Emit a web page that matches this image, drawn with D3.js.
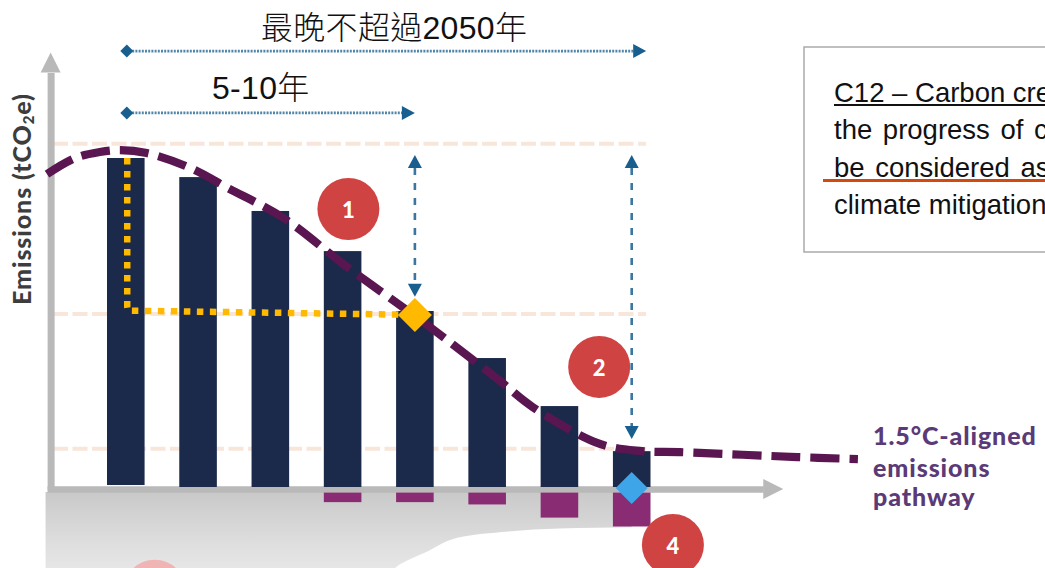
<!DOCTYPE html>
<html>
<head>
<meta charset="utf-8">
<style>
  html, body { margin: 0; padding: 0; background: #fff; overflow: hidden; }
  svg { display: block; }
</style>
<script src="https://cdn.jsdelivr.net/npm/d3@7/dist/d3.min.js"></script>
</head>
<body>
<svg id="chart" width="1045" height="568"></svg>
<script>
// Annual emissions bars and the removals held below the axis
const periods = [0, 1, 2, 3, 4, 5, 6, 7];
const emissions = [100, 94.2, 83.9, 71.7, 53.5, 39.2, 24.6, 10.9];
const removals = [0, 0, 0, 2.9, 2.9, 3.6, 7.6, 10.3];

// 1.5°C pathway: time position and emission level
const pathwayTime = [-1.09, -0.70, -0.36, -0.08, 0.29, 0.89, 1.41, 2.18, 3.06, 4.0, 4.39, 5.18, 5.63, 6.56, 7.14, 7.67, 9.29, 10.13];
const pathwayLevel = [95.1, 100, 101.8, 102.4, 101.5, 97, 90.9, 81.8, 66.9, 52, 45.6, 32.2, 24.3, 13.1, 10.9, 10.6, 9.1, 8.5];

// Lower edge of the shaded removals region
const shadeTime = [-1.11, 3.4, 3.8, 4.15, 4.5, 5.2, 6.0, 7.0];
const shadeLevel = [-30, -30, -23.4, -19.8, -16, -13.7, -12.6, -12.2];

// Reference levels and annotation text
const guideLevels = [104.3, 52.6, 11.6];
const spanLabels = ["最晚不超過2050年", "5-10年"];
const pathwayLabel = ["1.5°C-aligned", "emissions", "pathway"];
const pathwayBaselines = [445, 477, 506];
const noteLines = ["C12 – Carbon credits", "the progress of companies", "be considered as", "climate mitigation"];
const badges = [
  { label: "1", t: 3.08, level: 84.5, fill: "#d04343" },
  { label: "2", t: 6.55, level: 36.5, fill: "#d04343" },
  { label: "", t: 0.4, level: -31.5, fill: "#f0b4b4" },
  { label: "4", t: 7.57, level: -17.6, fill: "#d04343" }
];

const svg = d3.select("#chart");

const x = d3.scaleBand().domain(periods).range([107, 650.5]).paddingInner(0.48).paddingOuter(0);
const time = d3.scaleLinear().domain([0, 7]).range([x(0) + x.bandwidth() / 2, x(7) + x.bandwidth() / 2]);
const y = d3.scaleLinear().domain([0, 100]).range([487, 158]);

const AXIS = "#b9b9b9", NAVY = "#1b2a4a", PLUM = "#5a1650", ORCHID = "#8a2c74",
      AMBER = "#ffb900", BLUE = "#185f8f", SKY = "#3ea6e8";

const defs = svg.append("defs");
const grad = defs.append("linearGradient").attr("id", "shade").attr("x1", 0).attr("x2", 0).attr("y1", 0).attr("y2", 1);
grad.append("stop").attr("offset", "0%").attr("stop-color", "#c9c9c9");
grad.append("stop").attr("offset", "55%").attr("stop-color", "#dedede");
grad.append("stop").attr("offset", "100%").attr("stop-color", "#ececec");

// Shaded region under the axis
const shadeArea = d3.area()
  .x((d, i) => time(shadeTime[i]))
  .y0(y(-1.5))
  .y1(d => y(d))
  .curve(d3.curveMonotoneX);
svg.append("path").datum(shadeLevel).attr("d", shadeArea).attr("fill", "url(#shade)");

// Dashed reference levels
svg.append("g").selectAll("line").data(guideLevels).join("line")
  .attr("x1", 53).attr("x2", time(7.2))
  .attr("y1", d => y(d)).attr("y2", d => y(d))
  .attr("stroke", "#f8e6da").attr("stroke-width", 4).attr("stroke-dasharray", "15 4.5");

// Axes: bare domain lines with arrow heads
const axisX = d3.scaleLinear().domain([-1.09, 8.82]).range([time(-1.09), time(8.82)]);
const axisY = d3.scaleLinear().domain([-0.6, 126]).range([y(-0.6), y(126)]);
const gx = svg.append("g").attr("transform", `translate(0,${y(-0.6)})`)
  .call(d3.axisBottom(axisX).tickValues([]).tickSizeOuter(0));
const gy = svg.append("g").attr("transform", `translate(${time(-1.04)},0)`)
  .call(d3.axisLeft(axisY).tickValues([]).tickSizeOuter(0));
gx.select(".domain").attr("stroke", AXIS).attr("stroke-width", 6.6);
gy.select(".domain").attr("stroke", AXIS).attr("stroke-width", 7);

const triangle = (pts, fill) => svg.append("polygon")
  .attr("points", pts.map(p => p.join(",")).join(" ")).attr("fill", fill);
triangle([[time(8.82), y(-0.6) - 10], [time(8.82) + 20, y(-0.6)], [time(8.82), y(-0.6) + 10]], AXIS);
triangle([[time(-1.04) - 10, y(126)], [time(-1.04), y(126) - 20], [time(-1.04) + 10, y(126)]], AXIS);

// Emission bars
svg.append("g").selectAll("rect").data(periods).join("rect")
  .attr("x", d => x(d)).attr("width", x.bandwidth())
  .attr("y", d => y(emissions[d]))
  .attr("height", d => y(d === 0 ? 0.6 : 0) - y(emissions[d]))
  .attr("fill", NAVY);

// Removal bars, hung just below the axis
const removalTop = -1.7;
svg.append("g").selectAll("rect").data(periods.filter(d => removals[d] > 0)).join("rect")
  .attr("x", d => x(d)).attr("width", x.bandwidth())
  .attr("y", y(removalTop))
  .attr("height", d => y(removalTop - removals[d]) - y(removalTop))
  .attr("fill", ORCHID);

// Near-term target path
const target = d3.path();
target.moveTo(time(0.02), y(100));
target.lineTo(time(0.02), y(55));
target.quadraticCurveTo(time(0.02), y(53.6), time(0.05), y(53.6));
target.lineTo(time(3.8), y(52.4));
svg.append("path").attr("d", target.toString()).attr("fill", "none")
  .attr("stroke", AMBER).attr("stroke-width", 6.5).attr("stroke-dasharray", "6.5 6.5");

// 1.5°C pathway
const pathway = d3.line().x(d => time(d)).y((d, i) => y(pathwayLevel[i])).curve(d3.curveCatmullRom);
svg.append("path").attr("d", pathway(pathwayTime)).attr("fill", "none")
  .attr("stroke", PLUM).attr("stroke-width", 8.2).attr("stroke-dasharray", "29 10");

// Target diamonds
const diamond = (cx, cy, r, fill) => svg.append("path")
  .attr("d", `M${cx},${cy - r}L${cx + r},${cy}L${cx},${cy + r}L${cx - r},${cy}Z`).attr("fill", fill);
diamond(time(4), y(52.3), 17, AMBER);
diamond(time(7), y(-0.3), 16, SKY);

// Horizontal time spans
const spans = [{ level: 132.5, end: 7.2 }, { level: 113.7, end: 4.0 }];
spans.forEach(s => {
  const yy = y(s.level), tip = time(s.end);
  svg.append("line").attr("x1", time(0)).attr("x2", tip - 10).attr("y1", yy).attr("y2", yy)
    .attr("stroke", BLUE).attr("stroke-width", 2.8).attr("stroke-dasharray", "2 1.2").attr("opacity", 0.75);
  diamond(time(0) + 1, yy, 6.5, BLUE);
  triangle([[tip - 13, yy - 7], [tip, yy], [tip - 13, yy + 7]], BLUE);
});

// Vertical reduction gaps
const gaps = [{ t: 4, top: 100.9, bottom: 57.8 }, { t: 7, top: 100.9, bottom: 14.6 }];
gaps.forEach(g => {
  const xx = time(g.t), y0 = y(g.top), y1 = y(g.bottom);
  svg.append("line").attr("x1", xx).attr("x2", xx).attr("y1", y0 + 13).attr("y2", y1 - 13)
    .attr("stroke", BLUE).attr("stroke-width", 2.6).attr("stroke-dasharray", "7 8").attr("opacity", 0.85);
  triangle([[xx - 7, y0 + 13], [xx, y0], [xx + 7, y0 + 13]], BLUE);
  triangle([[xx - 7, y1 - 13], [xx, y1], [xx + 7, y1 - 13]], BLUE);
});

// Numbered badges
const badge = svg.append("g").selectAll("g").data(badges).join("g")
  .attr("transform", d => `translate(${time(d.t)},${y(d.level)})`);
badge.append("circle").attr("r", 31).attr("fill", d => d.fill);
badge.filter(d => d.label).append("text").text(d => d.label)
  .attr("text-anchor", "middle").attr("y", 9)
  .attr("font-family", "Lato").attr("font-weight", 900).attr("font-size", 22).attr("fill", "#fff");

// Span captions
svg.append("g").attr("font-family", "'Liberation Sans','Noto Sans CJK TC'").attr("font-size", 32)
  .attr("font-weight", 300).attr("letter-spacing", 0.3).attr("fill", "#111")
  .selectAll("text").data(spanLabels).join("text")
  .text(d => d)
  .attr("x", (d, i) => [261, 212][i])
  .attr("y", (d, i) => [39, 99][i]);

// Y axis title
const title = svg.append("text")
  .attr("transform", "translate(31,305) rotate(-90)")
  .attr("font-family", "Lato").attr("font-weight", 900).attr("font-size", 25)
  .attr("letter-spacing", 0.9).attr("fill", "#3d3d3d");
title.append("tspan").text("Emissions (tCO");
title.append("tspan").text("2").attr("font-size", 15).attr("dy", 3);
title.append("tspan").text("e)").attr("dy", -3);

// Pathway caption
svg.append("g").attr("font-family", "Lato").attr("font-weight", 900).attr("font-size", 25)
  .attr("letter-spacing", 0.9).attr("fill", "#5b3a78")
  .selectAll("text").data(pathwayLabel).join("text")
  .text(d => d).attr("x", 873).attr("y", (d, i) => pathwayBaselines[i]);

// Note box running off the right-hand side
svg.append("rect").attr("x", 804).attr("y", 47).attr("width", 300).attr("height", 205)
  .attr("fill", "#fff").attr("stroke", "#aaa").attr("stroke-width", 1.5);
svg.append("g").attr("font-family", "Liberation Sans").attr("font-size", 27.5).attr("fill", "#111")
  .selectAll("text").data(noteLines).join("text")
  .text(d => d).attr("x", 834)
  .attr("y", (d, i) => 102 + i * 37.3)
  .attr("word-spacing", (d, i) => (i === 1 || i === 2) ? 3 : 0);
svg.append("line").attr("x1", 834).attr("x2", 1045).attr("y1", 105).attr("y2", 105)
  .attr("stroke", "#111").attr("stroke-width", 2);
svg.append("line").attr("x1", 823).attr("x2", 1045).attr("y1", 180.5).attr("y2", 180.5)
  .attr("stroke", "#d34a10").attr("stroke-width", 3);
</script>
</body>
</html>
